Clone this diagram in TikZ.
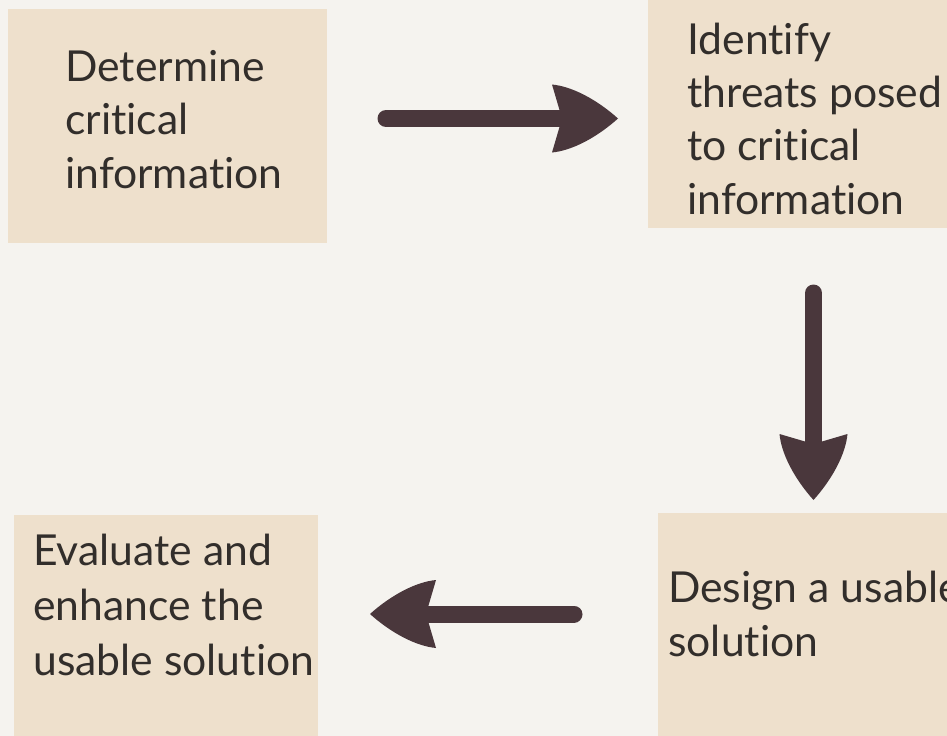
\documentclass[tikz,border=0pt]{standalone}
\usepackage{fontspec}
\setmainfont{Lato}[Ligatures=NoCommon]
\usetikzlibrary{calc}
\definecolor{bgc}{RGB}{245,243,239}
\definecolor{boxc}{RGB}{238,224,204}
\definecolor{arrowc}{RGB}{74,55,60}
\definecolor{txtc}{RGB}{50,46,43}
\tikzset{
  x=0.75pt,y=-0.75pt,
  box/.style={fill=boxc,draw=none,inner sep=0pt,outer sep=0pt},
  lbl/.style={anchor=base west,inner sep=0pt,align=left,text=txtc,
    font=\fontsize{32}{40}\selectfont},
  shaft/.style={draw=arrowc,line width=12.75pt,line cap=round},
  arrowhd/.pic={\fill[arrowc] (0,0) .. controls (-20,-18) and (-45,-32) .. (-66,-34)
     -- (-56,0) -- (-66,34) .. controls (-45,32) and (-20,18) .. (0,0) -- cycle;}
}
\begin{document}
\begin{tikzpicture}
\useasboundingbox (0,0) rectangle (947,736);
\clip (0,0) rectangle (947,736);
\fill[bgc] (0,0) rectangle (947,736);
% boxes
\node[box,minimum width=319*0.75pt,minimum height=234*0.75pt] (b1) at (167.5,126) {};
\node[box,minimum width=312*0.75pt,minimum height=238*0.75pt] (b2) at (804,109) {};
\node[box,minimum width=304*0.75pt,minimum height=232*0.75pt] (b3) at (810,629) {};
\node[box,minimum width=304*0.75pt,minimum height=232*0.75pt] (b4) at (166,631) {};
% labels (anchored at the baseline of the last line)
\node[lbl] (t1) at (65,188) {Determine\\critical\\information};
\node[lbl] (t2) at (687,214) {Identify\\threats posed\\to critical\\information};
\node[lbl] (t3) at (668,656) {Design a usable\\solution};
\node[lbl,font=\fontsize{32}{41}\selectfont] (t4) at (33,675) {Evaluate and\\enhance the\\usable solution};
% arrows
\coordinate (a1s) at (386,118.5);
\coordinate (a1e) at (575,118.5);
\coordinate (a1t) at (618,118.5);
\coordinate (a2s) at (813.5,293);
\coordinate (a2e) at (813.5,460);
\coordinate (a2t) at (813.5,500);
\coordinate (a3s) at (574,614);
\coordinate (a3e) at (413,614);
\coordinate (a3t) at (370,614);
\draw[shaft] (a1s) -- (a1e);
\pic at (a1t) {arrowhd};
\draw[shaft] (a2s) -- (a2e);
\pic[rotate=-90] at (a2t) {arrowhd};
\draw[shaft] (a3s) -- (a3e);
\pic[rotate=180] at (a3t) {arrowhd};
\end{tikzpicture}
\end{document}
